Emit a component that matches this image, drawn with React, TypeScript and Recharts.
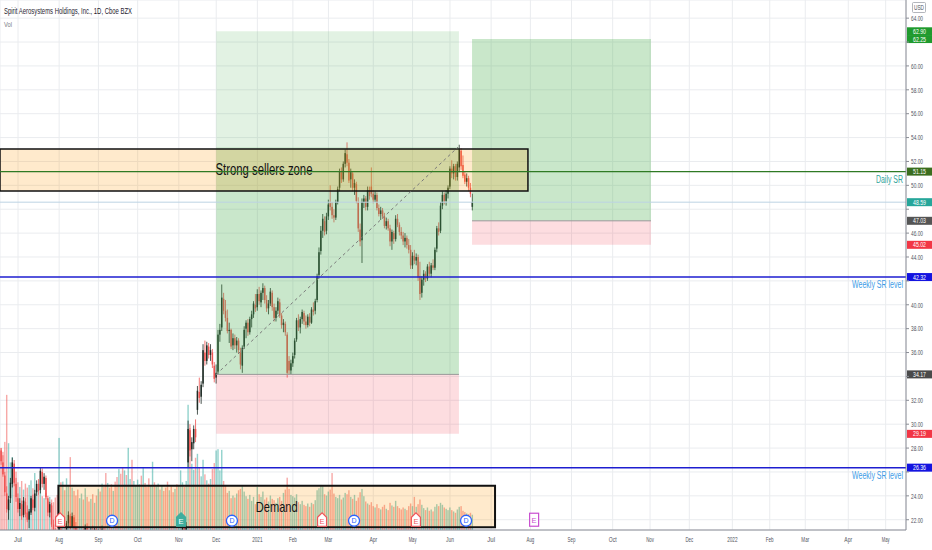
import React from 'react';
import { ComposedChart, Bar, XAxis, YAxis, CartesianGrid, ReferenceArea, ReferenceLine, ReferenceDot } from 'recharts';

// [open, high, low, close, volume (millions)]
type Row = [number, number, number, number, number];

const jun2020: Row[] = [
  [27.0, 28.3, 26.5, 27.8, 13.0], [27.8, 28.0, 26.6, 26.9, 12.4], [26.8, 27.4, 25.6, 25.8, 11.8],
  [25.7, 26.0, 24.0, 24.3, 13.3], [24.2, 24.8, 22.6, 22.9, 20.4], [22.8, 24.0, 22.0, 23.7, 13.1],
  [23.8, 25.5, 23.4, 25.1, 10.2], [25.0, 27.2, 24.7, 26.8, 11.0], [26.7, 27.0, 24.8, 25.1, 9.6],
  [25.0, 25.5, 23.5, 23.9, 8.8],
];
const jul2020: Row[] = [
  [23.8, 24.2, 22.6, 22.9, 7.2], [22.9, 23.8, 22.3, 23.4, 6.5], [23.3, 23.6, 22.0, 22.3, 7.4],
  [22.4, 23.9, 22.2, 23.6, 6.1], [23.5, 23.8, 22.2, 22.5, 7.0], [22.6, 23.2, 21.8, 22.0, 6.4],
  [22.0, 22.9, 21.3, 22.7, 6.8], [22.6, 24.0, 22.4, 23.8, 7.5], [23.7, 24.1, 22.8, 23.0, 6.3],
  [23.0, 24.5, 22.7, 24.2, 8.6], [24.3, 25.3, 24.0, 25.0, 6.0], [25.0, 25.4, 24.1, 24.4, 5.5],
  [24.5, 26.4, 24.2, 26.1, 6.2], [26.0, 26.3, 24.7, 25.0, 5.1], [25.0, 25.9, 24.5, 25.6, 4.8],
  [25.5, 25.7, 23.7, 23.9, 5.6], [23.8, 24.0, 22.3, 22.6, 4.4], [22.6, 23.5, 22.2, 23.3, 5.0],
  [23.2, 23.4, 21.4, 21.6, 4.6], [21.6, 22.0, 20.6, 20.9, 4.2], [20.9, 21.3, 19.8, 20.1, 4.9],
  [20.1, 20.6, 19.5, 19.8, 5.3],
];
const aug2020: Row[] = [
  [19.9, 21.6, 19.6, 21.3, 13.9], [21.2, 21.4, 20.2, 20.4, 7.2], [20.4, 20.9, 19.9, 20.6, 7.3],
  [20.6, 21.0, 20.1, 20.3, 6.0], [20.4, 21.9, 20.3, 21.7, 7.8], [21.7, 22.7, 21.4, 22.4, 6.6],
  [22.3, 22.5, 21.2, 21.4, 11.0], [21.4, 22.6, 21.3, 22.3, 6.4], [22.2, 22.4, 21.0, 21.3, 5.9],
  [21.3, 21.8, 20.6, 20.8, 5.2], [20.8, 21.1, 20.0, 20.2, 6.1], [20.2, 20.7, 19.7, 20.5, 4.8],
  [20.5, 21.0, 20.2, 20.8, 5.5], [20.8, 21.2, 20.3, 20.4, 4.6], [20.4, 21.6, 20.3, 21.4, 6.3],
  [21.4, 21.7, 20.7, 20.9, 5.0], [20.9, 21.1, 20.1, 20.3, 4.3], [20.3, 21.3, 20.2, 21.1, 4.7],
  [21.1, 21.5, 20.6, 20.7, 5.4], [20.7, 21.4, 20.5, 21.2, 4.1], [21.2, 21.4, 20.0, 20.2, 5.2],
];
const sep2020: Row[] = [
  [20.2, 21.2, 20.0, 21.0, 6.2], [21.0, 21.3, 19.9, 20.1, 5.8], [20.1, 21.5, 20.0, 21.2, 7.0],
  [21.1, 21.3, 19.8, 20.0, 6.5], [20.0, 20.3, 19.2, 19.4, 8.6], [19.4, 19.9, 18.8, 19.7, 7.1],
  [19.7, 20.1, 19.1, 19.3, 6.4], [19.3, 19.6, 18.6, 18.8, 6.9], [18.8, 19.5, 18.5, 19.3, 5.9],
  [19.3, 19.7, 18.7, 18.9, 7.3], [18.9, 19.2, 18.0, 18.2, 8.0], [18.2, 18.8, 17.8, 18.6, 9.2],
  [18.6, 18.9, 17.9, 18.1, 8.5], [18.1, 18.4, 17.4, 17.6, 9.4], [17.6, 18.3, 17.3, 18.1, 9.0],
  [18.1, 18.6, 17.7, 17.9, 8.3], [17.9, 18.8, 17.8, 18.6, 12.4], [18.6, 19.2, 18.3, 19.0, 7.7],
  [19.0, 19.1, 18.2, 18.4, 10.6], [18.4, 19.0, 18.1, 18.8, 7.4], [18.8, 19.3, 18.5, 19.0, 6.8],
];
const oct2020: Row[] = [
  [19.0, 19.6, 18.7, 19.4, 7.6], [19.4, 20.0, 19.1, 19.8, 6.9], [19.8, 20.1, 19.2, 19.4, 8.2],
  [19.4, 20.3, 19.3, 20.1, 9.4], [20.1, 20.6, 19.8, 20.0, 7.1], [20.0, 20.4, 19.4, 19.6, 6.5],
  [19.6, 19.9, 18.9, 19.1, 7.8], [19.1, 19.7, 18.8, 19.5, 6.8], [19.5, 20.2, 19.3, 20.0, 10.3],
  [20.0, 20.1, 19.2, 19.4, 7.2], [19.4, 19.8, 18.9, 19.6, 6.6], [19.6, 20.5, 19.5, 20.3, 7.0],
  [20.3, 20.6, 19.7, 19.9, 6.1], [19.9, 20.8, 19.8, 20.6, 6.7], [20.6, 20.9, 19.9, 20.1, 5.9],
  [20.1, 20.3, 19.2, 19.4, 6.4], [19.4, 19.7, 18.6, 18.8, 7.3], [18.8, 19.4, 18.5, 19.2, 6.0],
  [19.2, 19.5, 18.4, 18.6, 6.6], [18.6, 19.0, 17.9, 18.2, 5.7], [18.2, 19.1, 18.0, 18.9, 6.2],
  [18.9, 19.3, 18.4, 18.7, 6.9],
];
const nov2020: Row[] = [
  [18.8, 20.1, 18.6, 19.9, 6.8], [19.9, 20.8, 19.7, 20.6, 9.0], [20.6, 21.6, 20.4, 21.3, 7.2],
  [21.3, 21.9, 20.9, 21.1, 6.5], [21.1, 21.8, 20.8, 21.5, 7.4], [26.8, 30.3, 26.4, 29.6, 18.9],
  [29.5, 30.0, 27.3, 27.8, 15.4], [27.9, 28.9, 26.9, 28.5, 10.0], [28.4, 29.9, 27.9, 29.6, 9.1],
  [29.6, 30.4, 28.5, 28.9, 10.9], [31.2, 33.2, 30.8, 32.8, 11.5], [32.7, 33.9, 31.8, 32.2, 9.4],
  [32.3, 33.6, 31.7, 33.3, 8.1], [33.4, 36.7, 33.1, 36.2, 10.6], [36.0, 37.0, 34.9, 35.3, 8.4],
  [35.3, 36.9, 35.0, 36.6, 7.5], [36.5, 36.8, 35.5, 35.8, 7.0], [35.8, 36.7, 35.3, 36.2, 7.7],
  [36.0, 36.3, 34.7, 35.0, 9.2], [34.9, 35.2, 33.5, 33.8, 10.1],
];
const dec2020: Row[] = [
  [33.9, 35.0, 33.4, 34.3, 12.0], [34.4, 37.9, 34.2, 37.5, 12.2], [37.5, 38.4, 36.9, 37.9, 9.0],
  [38.1, 41.7, 37.8, 40.6, 12.1], [40.5, 41.0, 39.2, 39.5, 7.4], [39.5, 40.4, 38.6, 38.9, 6.8],
  [38.9, 39.6, 37.6, 37.8, 5.6], [37.8, 38.5, 36.8, 37.9, 5.9], [37.9, 38.0, 36.3, 36.5, 4.8],
  [36.6, 37.6, 36.2, 37.2, 5.2], [37.2, 37.5, 36.3, 36.6, 4.9], [36.6, 37.3, 36.0, 37.0, 5.5],
  [37.0, 37.2, 35.9, 36.2, 6.0], [36.0, 36.4, 34.6, 35.0, 6.2], [34.9, 36.6, 34.3, 36.4, 6.6],
  [36.5, 38.2, 36.3, 37.9, 5.8], [38.0, 38.7, 37.2, 38.5, 5.1], [38.5, 38.8, 37.4, 37.7, 4.7],
  [37.7, 39.0, 37.5, 38.8, 5.3], [38.8, 39.5, 38.1, 39.2, 4.4], [39.2, 40.3, 38.9, 40.1, 5.0],
  [40.0, 40.9, 39.4, 39.7, 3.9],
];
const jan2021: Row[] = [
  [39.8, 41.3, 39.5, 40.9, 6.5], [40.9, 41.5, 40.0, 40.3, 5.4], [40.2, 41.2, 39.8, 41.0, 5.0],
  [41.0, 41.8, 40.4, 41.4, 5.8], [41.4, 41.6, 40.1, 40.4, 4.6], [40.4, 40.8, 39.4, 39.7, 4.9],
  [39.7, 40.4, 39.2, 40.1, 4.3], [40.1, 41.4, 39.9, 41.1, 5.2], [41.0, 41.2, 39.5, 39.8, 4.7],
  [39.8, 40.1, 38.6, 38.9, 4.5], [38.9, 39.8, 38.6, 39.5, 4.1], [39.5, 40.6, 39.2, 40.3, 4.8],
  [40.2, 40.5, 38.9, 39.1, 5.0], [39.1, 39.3, 38.0, 38.3, 4.4], [38.3, 38.8, 37.7, 38.5, 5.6],
  [38.4, 38.6, 37.4, 37.7, 6.1], [37.5, 37.7, 33.9, 34.3, 7.9], [35.3, 35.7, 34.2, 34.5, 6.2],
  [34.5, 35.4, 34.2, 35.1, 5.3],
];
const feb2021: Row[] = [
  [35.1, 36.0, 34.8, 35.7, 5.1], [35.8, 37.2, 35.5, 37.0, 4.9], [37.1, 38.9, 36.9, 38.7, 5.4],
  [38.7, 39.2, 37.8, 38.1, 4.2], [38.1, 39.0, 37.6, 38.8, 3.9], [38.8, 39.6, 38.4, 39.4, 4.4],
  [39.3, 39.5, 38.3, 38.6, 3.8], [38.6, 39.1, 38.0, 38.3, 3.6], [38.3, 39.2, 38.1, 39.0, 4.0],
  [39.0, 39.3, 38.2, 38.5, 3.5], [38.5, 39.8, 38.4, 39.6, 4.1], [39.6, 40.2, 39.1, 39.4, 3.9],
  [39.5, 40.5, 39.2, 40.3, 4.5], [40.4, 42.6, 40.2, 42.4, 6.0], [42.5, 44.8, 42.2, 44.4, 6.3],
  [44.5, 46.6, 44.2, 46.2, 6.8], [46.2, 47.6, 45.6, 47.2, 6.6], [47.0, 47.4, 45.8, 46.1, 5.4],
  [46.2, 47.7, 45.9, 47.4, 5.2],
];
const mar2021: Row[] = [
  [47.4, 48.8, 47.1, 48.4, 5.8], [48.5, 50.0, 47.9, 48.2, 6.1], [48.2, 48.6, 47.2, 47.5, 8.6],
  [47.5, 48.0, 46.9, 47.3, 5.5], [47.3, 48.8, 47.1, 48.6, 5.0], [48.6, 49.9, 48.4, 49.7, 4.8],
  [49.8, 51.4, 49.5, 51.2, 5.3], [51.1, 51.5, 50.2, 50.5, 4.6], [50.5, 52.0, 50.3, 51.8, 4.9],
  [51.8, 53.0, 51.5, 52.7, 5.6], [52.6, 53.6, 51.6, 51.9, 5.4], [51.9, 52.2, 50.2, 50.4, 6.0],
  [50.5, 51.4, 49.8, 51.1, 5.0], [51.0, 51.2, 49.5, 49.8, 4.7], [49.8, 50.5, 49.2, 50.2, 5.3],
  [50.1, 50.3, 48.5, 48.7, 4.4], [48.6, 49.0, 46.1, 46.4, 4.9], [46.3, 46.8, 44.9, 45.3, 5.7],
  [45.4, 48.9, 43.5, 48.6, 6.2], [48.6, 49.2, 48.1, 48.9, 5.1], [48.9, 49.1, 47.9, 48.2, 4.3],
  [48.2, 49.9, 47.9, 49.6, 4.0], [49.6, 49.9, 48.8, 49.1, 3.8],
];
const apr2021: Row[] = [
  [49.9, 51.5, 49.0, 49.3, 4.2], [49.3, 49.6, 48.5, 48.8, 3.6], [48.8, 49.5, 48.6, 49.2, 3.4],
  [49.2, 49.4, 47.9, 48.1, 3.9], [48.1, 48.4, 47.4, 47.6, 3.3], [47.6, 48.2, 47.1, 47.9, 3.1],
  [47.9, 48.1, 47.2, 47.4, 3.5], [47.4, 47.7, 46.4, 46.6, 3.8], [46.6, 47.3, 46.3, 47.0, 3.2],
  [47.0, 47.2, 46.2, 46.4, 3.0], [46.4, 46.7, 44.9, 45.3, 4.1], [45.3, 46.3, 44.6, 46.1, 3.7],
  [46.0, 46.2, 45.1, 45.5, 3.5], [45.5, 47.5, 45.3, 47.2, 4.4], [47.2, 47.6, 46.5, 46.7, 3.6],
  [46.7, 46.9, 45.8, 46.1, 3.3], [46.1, 46.5, 45.5, 45.8, 3.1], [45.8, 46.1, 45.0, 45.3, 3.4],
  [45.3, 46.0, 44.8, 45.6, 3.2], [45.6, 45.8, 44.7, 45.0, 3.0], [45.0, 45.5, 44.3, 44.6, 3.6],
];
const may2021: Row[] = [
  [44.6, 45.0, 43.0, 43.3, 4.0], [43.3, 44.4, 43.0, 44.1, 3.6], [44.1, 44.6, 43.4, 43.7, 5.0],
  [43.7, 44.3, 43.3, 44.0, 3.5], [44.0, 44.2, 42.0, 42.3, 3.9], [42.4, 43.6, 40.4, 40.9, 4.6],
  [41.0, 42.4, 40.6, 42.1, 3.8], [42.1, 42.9, 41.6, 42.6, 3.3], [42.6, 42.8, 41.9, 42.2, 3.0],
  [42.2, 43.4, 42.0, 43.2, 3.4], [43.2, 43.6, 42.4, 42.6, 2.9], [42.6, 43.5, 42.3, 43.3, 3.1],
  [43.3, 43.8, 42.9, 43.1, 2.8], [43.1, 44.8, 42.9, 44.6, 3.5], [44.7, 46.6, 44.4, 46.4, 3.9],
  [46.4, 46.9, 45.8, 46.1, 3.6], [46.2, 48.6, 46.0, 48.3, 4.1], [48.3, 49.5, 48.0, 49.2, 3.8],
  [49.2, 49.4, 48.4, 48.7, 3.4], [48.7, 49.6, 48.3, 49.3, 3.2], [49.3, 50.0, 48.9, 49.8, 3.0],
];
const jun2021: Row[] = [
  [49.9, 51.6, 49.7, 51.4, 3.4], [51.4, 52.1, 50.6, 51.0, 3.0], [51.0, 51.8, 50.5, 51.6, 2.8],
  [51.6, 51.8, 50.4, 50.7, 2.6], [50.7, 52.0, 50.4, 51.8, 3.1], [51.5, 53.4, 51.1, 53.0, 3.5],
  [52.9, 53.1, 51.3, 51.6, 3.6], [51.7, 52.5, 50.6, 50.8, 2.9], [50.9, 51.2, 50.1, 50.3, 2.7],
  [50.3, 51.0, 49.9, 50.6, 2.5], [50.6, 50.8, 49.5, 49.8, 2.4], [49.8, 50.2, 49.0, 49.3, 2.6],
  [48.2, 49.3, 47.9, 48.59, 2.3],
];

const periods: Row[][] = [jun2020, jul2020, aug2020, sep2020, oct2020, nov2020, dec2020, jan2021, feb2021, mar2021, apr2021, may2021, jun2021];
const FIRST_BAR = -10;

const monthTicks = [0, 22, 43, 64, 86, 106, 128, 147, 166, 190, 211, 231, 253, 274, 296, 318, 338, 359, 382, 402, 421, 444, 464];
const monthLabels = ['Jul', 'Aug', 'Sep', 'Oct', 'Nov', 'Dec', '2021', 'Feb', 'Mar', 'Apr', 'May', 'Jun', 'Jul', 'Aug', 'Sep', 'Oct', 'Nov', 'Dec', '2022', 'Feb', 'Mar', 'Apr', 'May'];
const priceTicks = [22, 24, 26, 28, 30, 32, 34, 36, 38, 40, 42, 44, 46, 48, 50, 52, 54, 56, 58, 60, 62, 64];
// tick labels covered by the price badges on the axis
const coveredTicks = [26, 34, 42, 48, 62];

// drawings (bar index / price units)
const longA = { from: 106, to: 235.8, target: 62.9, entry: 34.17, stop: 29.19, reached: 53.2 };
const longB = { from: 242.8, to: 338.5, target: 62.25, entry: 47.03, stop: 45.02 };
const sellersZone = { to: 272.7, top: 53.05, bottom: 49.53 };
const demandZone = { from: 21.6, to: 255.1, top: 24.85, bottom: 21.36 };
const dailySR = 51.15;
const weeklySR = [42.32, 26.36];
const lastPrice = 48.59;
const earningsRed = [22.5, 162.6, 212.8];
const earningsTeal = [87.2];
const earningsFuture = [276];
const dividends = [50.3, 114.4, 179.7, 239.6];
const MARKER_PRICE = 22.0;

const XMIN = -9.63;
const XMAX = 474.87;
const PMIN = 21.14;
const PMAX = 65.52;
const VOL_MAX = 80;

const FONT = 'Liberation Sans, Arial, sans-serif';
const UP = '#1e2b25';
const DOWN = '#ef5350';

const rows = periods.flat().map((r, k) => ({
  i: FIRST_BAR + k, o: r[0], h: r[1], l: r[2], c: r[3], v: r[4], range: [r[2], r[1]],
}));

const Candle = (props: any) => {
  const { x, y, width, height, payload } = props;
  if (!payload || height == null || isNaN(y)) return null;
  const top = Math.min(y, y + height);
  const H = Math.abs(height);
  const { o, h, l, c } = payload;
  const k = h - l > 0 ? H / (h - l) : 0;
  const bTop = top + (h - Math.max(o, c)) * k;
  const bBot = top + (h - Math.min(o, c)) * k;
  const cx = x + width / 2;
  const col = c >= o ? UP : DOWN;
  return (
    <g>
      <line x1={cx} x2={cx} y1={top} y2={top + H} stroke={col} strokeWidth={0.8} />
      <rect x={cx - 0.75} y={bTop} width={1.5} height={Math.max(0.8, bBot - bTop)} fill={col} />
    </g>
  );
};

const Vol = (props: any) => {
  const { x, y, width, height, payload } = props;
  if (!payload || height == null || isNaN(y)) return null;
  const up = payload.c >= payload.o;
  return <rect x={x + width / 2 - 0.7} y={Math.min(y, y + height)} width={1.4} height={Math.abs(height)} fill={up ? '#26a69a' : '#ef5350'} fillOpacity={0.5} />;
};

const XTick = (p: any) => {
  const idx = monthTicks.indexOf(p.payload.value);
  const label = idx >= 0 ? monthLabels[idx] : '';
  return (
    <text x={p.x} y={p.y + 12} textAnchor="middle" fontSize={8} fill="#50535e" fontFamily={FONT}
      textLength={label.length * 2.6} lengthAdjust="spacingAndGlyphs">{label}</text>
  );
};

const YTick = (p: any) => {
  const v = Number(p.payload.value);
  if (coveredTicks.indexOf(v) >= 0) return <g />;
  return (
    <text x={p.x} y={p.y + 2.8} textAnchor="start" fontSize={8} fill="#50535e" fontFamily={FONT}
      textLength={12} lengthAdjust="spacingAndGlyphs">{v.toFixed(2)}</text>
  );
};

const badge = (txt: string, bg: string) => (p: any) => {
  const vb = p.viewBox || {};
  const xx = (vb.x || 0) + (vb.width || 0);
  const yy = vb.y || 0;
  return (
    <g>
      <rect x={xx + 1} y={yy - 4} width={25} height={8} fill={bg} />
      <text x={xx + 13.5} y={yy + 2.5} textAnchor="middle" fontSize={7} fill="#ffffff" fontFamily={FONT}
        textLength={13} lengthAdjust="spacingAndGlyphs">{txt}</text>
    </g>
  );
};

const lineText = (txt: string, col: string, w: number) => (p: any) => {
  const vb = p.viewBox || {};
  const xx = (vb.x || 0) + (vb.width || 0) - 3;
  const yy = (vb.y || 0) + 11;
  return (
    <text x={xx} y={yy} textAnchor="end" fontSize={10} fill={col} fontFamily={FONT}
      textLength={w} lengthAdjust="spacingAndGlyphs">{txt}</text>
  );
};

const areaText = (txt: string, size: number, w: number, dy: number) => (p: any) => {
  const vb = p.viewBox || {};
  return (
    <text x={vb.x + vb.width / 2} y={vb.y + vb.height / 2 + dy} textAnchor="middle" fontSize={size} fill="#131313"
      fontFamily={FONT} textLength={w} lengthAdjust="spacingAndGlyphs">{txt}</text>
  );
};

const EMark = (color: string, filled: boolean) => (p: any) => {
  const { cx, cy } = p;
  const d = `M${cx - 4.5},${cy - 2.5} L${cx},${cy - 7} L${cx + 4.5},${cy - 2.5} L${cx + 4.5},${cy + 6.5} L${cx - 4.5},${cy + 6.5} Z`;
  return (
    <g>
      <path d={d} fill={filled ? color : '#ffffff'} stroke={color} strokeWidth={1.2} />
      <text x={cx} y={cy + 4.5} textAnchor="middle" fontSize={7.5} fill={filled ? '#ffffff' : color} fontFamily={FONT}>E</text>
    </g>
  );
};

const EFuture = (p: any) => {
  const { cx, cy } = p;
  return (
    <g>
      <rect x={cx - 4.5} y={cy - 6.5} width={9} height={13} fill="#ffffff" stroke="#c94fd0" strokeWidth={1.2} />
      <text x={cx} y={cy + 3} textAnchor="middle" fontSize={7.5} fill="#c94fd0" fontFamily={FONT}>E</text>
    </g>
  );
};

const DMark = (p: any) => {
  const { cx, cy } = p;
  return (
    <g>
      <circle cx={cx} cy={cy + 1} r={5.5} fill="#ffffff" stroke="#2962ff" strokeWidth={1.3} />
      <text x={cx} y={cy + 3.7} textAnchor="middle" fontSize={7} fill="#2962ff" fontFamily={FONT}>D</text>
    </g>
  );
};

const ax = { xAxisId: 'x', yAxisId: 'price' } as const;

export default function App() {
  return (
    <div style={{ position: 'absolute', left: 0, top: 0, width: 932, height: 550, background: '#ffffff' }}>
      <ComposedChart width={932} height={550} data={rows} margin={{ top: 0, right: 0, bottom: 0, left: 0 }}>
        <CartesianGrid xAxisId="x" yAxisId="price" stroke="#eaecef" />
        <XAxis xAxisId="x" dataKey="i" type="number" domain={[XMIN, XMAX]} allowDataOverflow ticks={monthTicks}
          interval={0} tick={<XTick />} tickLine={false} tickSize={0} tickMargin={0} height={20}
          axisLine={{ stroke: '#8a8d96' }} />
        <XAxis xAxisId="xv" dataKey="i" type="number" domain={[XMIN, XMAX]} allowDataOverflow hide />
        <YAxis yAxisId="price" orientation="right" domain={[PMIN, PMAX]} allowDataOverflow ticks={priceTicks}
          interval={0} width={26} tick={<YTick />} tickSize={3} tickMargin={2}
          tickLine={{ stroke: '#8a8d96' }} axisLine={{ stroke: '#8a8d96' }} />
        <YAxis yAxisId="vol" domain={[0, VOL_MAX]} allowDataOverflow hide />

        <Bar xAxisId="xv" yAxisId="vol" dataKey="v" barSize={2} shape={<Vol />} isAnimationActive={false} />
        <Bar xAxisId="x" yAxisId="price" dataKey="range" barSize={2} shape={<Candle />} isAnimationActive={false} />

        {/* long position A */}
        <ReferenceArea {...ax} x1={longA.from} x2={longA.to} y1={longA.entry} y2={longA.target} fill="#4caf50" fillOpacity={0.16} ifOverflow="visible" zIndex={350} />
        <ReferenceArea {...ax} x1={longA.from} x2={longA.to} y1={longA.entry} y2={longA.reached} fill="#4caf50" fillOpacity={0.16} ifOverflow="visible" zIndex={350} />
        <ReferenceArea {...ax} x1={longA.from} x2={longA.to} y1={longA.stop} y2={longA.entry} fill="#f23645" fillOpacity={0.17} ifOverflow="visible" zIndex={350} />
        {/* long position B */}
        <ReferenceArea {...ax} x1={longB.from} x2={longB.to} y1={longB.entry} y2={longB.target} fill="#4caf50" fillOpacity={0.3} ifOverflow="visible" zIndex={350} />
        <ReferenceArea {...ax} x1={longB.from} x2={longB.to} y1={longB.stop} y2={longB.entry} fill="#f23645" fillOpacity={0.17} ifOverflow="visible" zIndex={350} />
        {/* zones */}
        <ReferenceArea {...ax} x1={XMIN} x2={sellersZone.to} y1={sellersZone.bottom} y2={sellersZone.top} fill="#ff9800" fillOpacity={0.2}
          stroke="#111111" strokeWidth={1.5} ifOverflow="visible" zIndex={360}
          label={areaText('Strong sellers zone', 16, 97, 5)} />
        <ReferenceArea {...ax} x1={demandZone.from} x2={demandZone.to} y1={demandZone.bottom} y2={demandZone.top} fill="#ff9800" fillOpacity={0.2}
          stroke="#111111" strokeWidth={2} ifOverflow="visible" zIndex={360}
          label={areaText('Demand', 15, 42, 5.5)} />

        <ReferenceLine {...ax} segment={[{ x: longA.from, y: longA.entry }, { x: longA.to, y: longA.entry }]} stroke="#9a9a9a" strokeWidth={1} zIndex={450} ifOverflow="visible" />
        <ReferenceLine {...ax} segment={[{ x: longB.from, y: longB.entry }, { x: longB.to, y: longB.entry }]} stroke="#9a9a9a" strokeWidth={1} zIndex={450} ifOverflow="visible" />
        <ReferenceLine {...ax} segment={[{ x: longA.from, y: longA.entry }, { x: longA.to - 0.5, y: longA.reached }]} stroke="#7a7a7a" strokeWidth={1} strokeDasharray="3 3" zIndex={450} ifOverflow="visible" />

        <ReferenceLine {...ax} y={lastPrice} stroke="#bcd3e3" strokeWidth={1} zIndex={450} ifOverflow="visible" label={badge('48.59', '#26a69a')} />
        <ReferenceLine {...ax} y={dailySR} stroke="#2f7a24" strokeWidth={1.3} zIndex={450} ifOverflow="visible" label={(p: any) => (<g>{lineText('Daily SR', '#2fa39a', 27)(p)}{badge('51.15', '#3b6e1f')(p)}</g>)} />
        <ReferenceLine {...ax} y={weeklySR[0]} stroke="#1e1ed0" strokeWidth={1.5} zIndex={450} ifOverflow="visible" label={(p: any) => (<g>{lineText('Weekly SR level', '#3d9be6', 51)(p)}{badge('42.32', '#1414e0')(p)}</g>)} />
        <ReferenceLine {...ax} y={weeklySR[1]} stroke="#1e1ed0" strokeWidth={1.5} zIndex={450} ifOverflow="visible" label={(p: any) => (<g>{lineText('Weekly SR level', '#3d9be6', 51)(p)}{badge('26.36', '#1414e0')(p)}</g>)} />

        <ReferenceLine {...ax} y={longA.target} stroke="none" ifOverflow="visible" zIndex={450} label={badge('62.90', '#1f9a2e')} />
        <ReferenceLine {...ax} y={longB.target} stroke="none" ifOverflow="visible" zIndex={450} label={badge('62.25', '#1f9a2e')} />
        <ReferenceLine {...ax} y={longB.entry} stroke="none" ifOverflow="visible" zIndex={450} label={badge('47.03', '#555555')} />
        <ReferenceLine {...ax} y={longB.stop} stroke="none" ifOverflow="visible" zIndex={450} label={badge('45.02', '#f23645')} />
        <ReferenceLine {...ax} y={longA.entry} stroke="none" ifOverflow="visible" zIndex={450} label={badge('34.17', '#4a4a4a')} />
        <ReferenceLine {...ax} y={longA.stop} stroke="none" ifOverflow="visible" zIndex={450} label={badge('29.19', '#f23645')} />

        {earningsRed.map((x) => (
          <ReferenceDot key={'er' + x} {...ax} x={x} y={MARKER_PRICE} ifOverflow="visible" zIndex={650} shape={EMark('#f0555a', false)} />
        ))}
        {earningsTeal.map((x) => (
          <ReferenceDot key={'et' + x} {...ax} x={x} y={MARKER_PRICE} ifOverflow="visible" zIndex={650} shape={EMark('#3fae9e', true)} />
        ))}
        {earningsFuture.map((x) => (
          <ReferenceDot key={'ef' + x} {...ax} x={x} y={MARKER_PRICE} ifOverflow="visible" zIndex={650} shape={EFuture} />
        ))}
        {dividends.map((x) => (
          <ReferenceDot key={'d' + x} {...ax} x={x} y={MARKER_PRICE} ifOverflow="visible" zIndex={650} shape={DMark} />
        ))}
      </ComposedChart>
      <svg width={932} height={550} style={{ position: 'absolute', left: 0, top: 0, pointerEvents: 'none' }}>
        <text x={4} y={14} fontSize={9.5} fill="#1f2430" fontFamily={FONT} textLength={128} lengthAdjust="spacingAndGlyphs">
          Spirit Aerosystems Holdings, Inc., 1D, Cboe BZX
        </text>
        <text x={4} y={26.5} fontSize={8} fill="#787b86" fontFamily={FONT} textLength={8} lengthAdjust="spacingAndGlyphs">Vol</text>
        <rect x={912.5} y={2.5} width={13} height={10} fill="#ffffff" stroke="#a0a3ab" strokeWidth={0.8} rx={1} />
        <text x={919} y={10} textAnchor="middle" fontSize={6.5} fill="#50535e" fontFamily={FONT} textLength={10} lengthAdjust="spacingAndGlyphs">USD</text>
      </svg>
    </div>
  );
}
